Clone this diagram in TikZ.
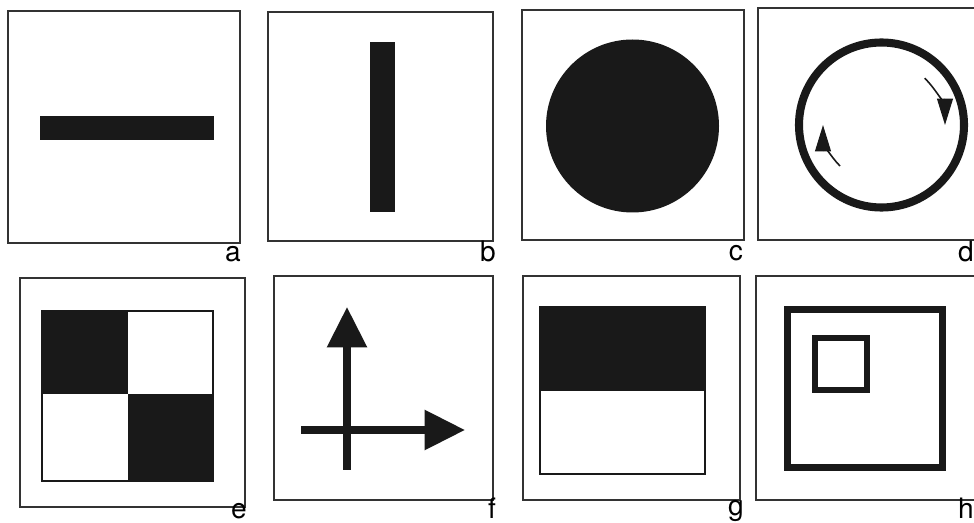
\documentclass[tikz,border=0pt]{standalone}
\usepackage{fontspec}
\setmainfont{TeX Gyre Heros}
\usetikzlibrary{arrows.meta}
\begin{document}
\begin{tikzpicture}[x=0.02cm,y=-0.02cm,
  frame/.style={draw=black!80,line width=0.75pt},
  ink/.style={fill=black!90,draw=none},
  thinbox/.style={draw=black!90,line width=0.9pt},
  tag/.style={anchor=base,inner sep=0pt,font=\fontsize{16}{16}\selectfont},
  turn/.style={draw=black!90,line width=0.9pt,-{Triangle[length=15pt,width=9pt]}},
  bigarrow/.style={draw=black!90,line width=4pt,-{Triangle[length=23pt,width=22pt]}}]
\fill[white] (0,0) rectangle (974,523);
\useasboundingbox (0,0) rectangle (974,523);
% a
\draw[frame] (8,11) rectangle (240,243);
\fill[ink] (40,116) rectangle (214,140);
\node[tag] (la) at (233,262) {a};
% b
\draw[frame] (268,12) rectangle (493,241);
\fill[ink] (370,42) rectangle (395,212);
\node[tag] (lb) at (488,262) {b};
% c
\draw[frame] (522,10) rectangle (744,240);
\fill[ink] (632.5,126) circle[radius=86.5];
\node[tag] (lc) at (736,261) {c};
% d
\draw[frame] (758,8) rectangle (990,240);
\draw[draw=black!90,line width=4.6pt] (881.5,125) circle[radius=82.5];
\coordinate (d1s) at (924.6,78.2);
\coordinate (d1e) at (945,125);
\draw[turn] (d1s) .. controls (936.7,89.5) and (945,108.4) .. (d1e);
\coordinate (d2s) at (840,166);
\coordinate (d2e) at (823,125);
\draw[turn] (d2s) .. controls (829.1,155.1) and (823,140.4) .. (d2e);
\node[tag] (ld) at (966,262) {d};
% e
\draw[frame] (20,278) rectangle (245,507);
\fill[ink] (42,311) rectangle (128,394);
\fill[ink] (128,394) rectangle (213,481);
\draw[thinbox] (42,311) rectangle (213,481);
\node[tag] (le) at (239,519) {e};
% f
\draw[frame] (274,276) rectangle (493,500);
\coordinate (fv0) at (347,470);
\coordinate (fv1) at (347,307);
\coordinate (fh0) at (301,430);
\coordinate (fh1) at (465,430);
\draw[bigarrow] (fv0) -- (fv1);
\draw[bigarrow] (fh0) -- (fh1);
\node[tag] (lf) at (492,519) {f};
% g
\draw[frame] (523,276) rectangle (740,500);
\fill[ink] (540,307) rectangle (705,391);
\draw[thinbox] (540,307) rectangle (705,474);
\node[tag] (lg) at (736,516) {g};
% h
\draw[frame] (756,276) rectangle (990,500);
\draw[draw=black!90,line width=4pt] (787.5,309.5) rectangle (942.5,467.5);
\draw[draw=black!90,line width=3.4pt] (815,338) rectangle (867,390);
\node[tag] (lh) at (966,519) {h};
\end{tikzpicture}
\end{document}
